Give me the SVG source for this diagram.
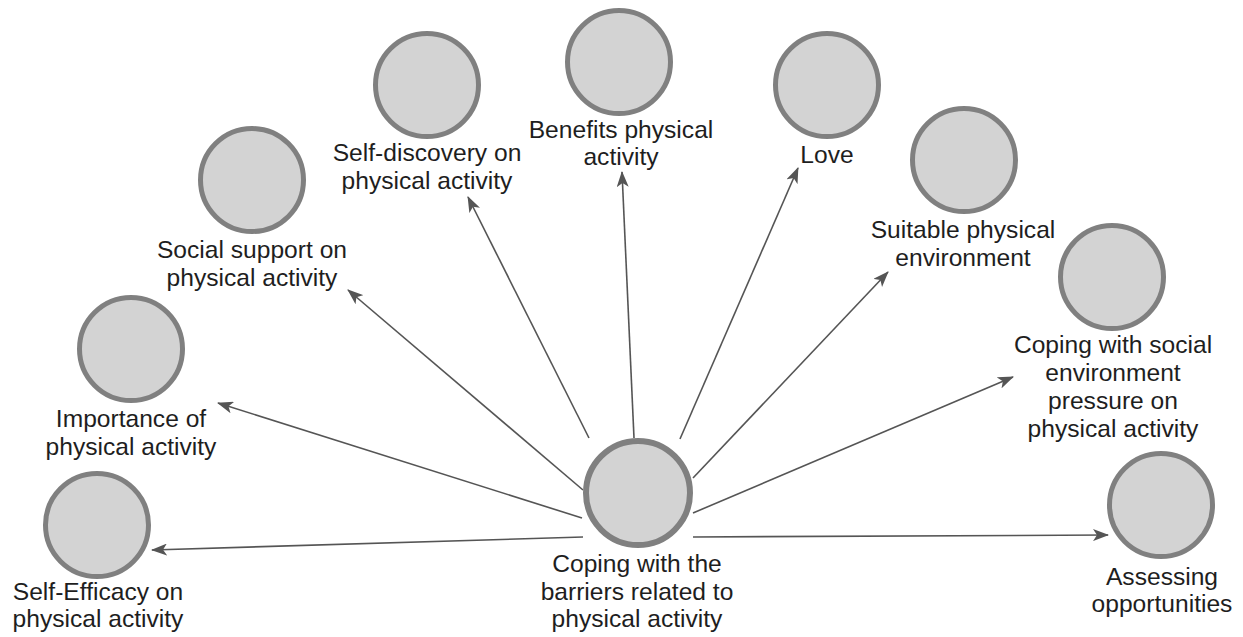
<svg xmlns="http://www.w3.org/2000/svg" width="1243" height="637" viewBox="0 0 1243 637">
  <style>
    .node circle { fill: #d3d3d3; stroke: #808080; stroke-width: 5; }
    .node.hub circle { stroke-width: 6; }
    .node text { font-family: "Liberation Sans", Arial, sans-serif; font-size: 24.6px; fill: #1e1e1e; text-anchor: middle; }
    .edges line { stroke: #555555; stroke-width: 1.6; fill: none; marker-end: url(#arrow); }
  </style>
  <defs>
    <marker id="arrow" viewBox="0 0 16 12" refX="15" refY="6" markerWidth="16" markerHeight="12" markerUnits="userSpaceOnUse" orient="auto">
      <path d="M0,0 L16,6 L0,12 L4,6 Z" fill="#555555"/>
    </marker>
  </defs>
  <rect width="1243" height="637" fill="#ffffff"/>

  <!-- connectors from the central theme to each sub-theme -->
  <g id="edges" class="edges">
    <line x1="583" y1="537" x2="152" y2="550"/>
    <line x1="582" y1="518" x2="218" y2="403"/>
    <line x1="583" y1="490" x2="348" y2="290"/>
    <line x1="589" y1="438" x2="468" y2="197"/>
    <line x1="634" y1="438" x2="622" y2="172"/>
    <line x1="680" y1="439" x2="798" y2="168"/>
    <line x1="693" y1="478" x2="888" y2="272"/>
    <line x1="693" y1="513" x2="1013" y2="377"/>
    <line x1="693" y1="537" x2="1108" y2="535"/>
  </g>

  <g id="node-barriers" class="node hub">
    <circle cx="638" cy="493" r="52"/>
    <text x="637" y="572">Coping with the</text>
    <text x="637" y="600">barriers related to</text>
    <text x="637" y="627">physical activity</text>
  </g>

  <g id="node-self-efficacy" class="node">
    <circle cx="97" cy="525" r="51.5"/>
    <text x="98" y="600">Self-Efficacy on</text>
    <text x="98" y="627">physical activity</text>
  </g>

  <g id="node-importance" class="node">
    <circle cx="131" cy="349" r="51.5"/>
    <text x="131" y="427">Importance of</text>
    <text x="131" y="455">physical activity</text>
  </g>

  <g id="node-social-support" class="node">
    <circle cx="252" cy="180" r="51.5"/>
    <text x="252" y="258">Social support on</text>
    <text x="252" y="286">physical activity</text>
  </g>

  <g id="node-self-discovery" class="node">
    <circle cx="427" cy="85" r="51.5"/>
    <text x="427" y="161">Self-discovery on</text>
    <text x="427" y="189">physical activity</text>
  </g>

  <g id="node-benefits" class="node">
    <circle cx="619" cy="62" r="51.5"/>
    <text x="621" y="138">Benefits physical</text>
    <text x="621" y="165">activity</text>
  </g>

  <g id="node-love" class="node">
    <circle cx="827" cy="85" r="51.5"/>
    <text x="827" y="163">Love</text>
  </g>

  <g id="node-environment" class="node">
    <circle cx="964" cy="160" r="51.5"/>
    <text x="963" y="238">Suitable physical</text>
    <text x="963" y="266">environment</text>
  </g>

  <g id="node-social-pressure" class="node">
    <circle cx="1112" cy="277" r="51.5"/>
    <text x="1113" y="353">Coping with social</text>
    <text x="1113" y="381">environment</text>
    <text x="1113" y="409">pressure on</text>
    <text x="1113" y="437">physical activity</text>
  </g>

  <g id="node-opportunities" class="node">
    <circle cx="1161" cy="505" r="51.5"/>
    <text x="1162" y="585">Assessing</text>
    <text x="1162" y="612">opportunities</text>
  </g>
</svg>
